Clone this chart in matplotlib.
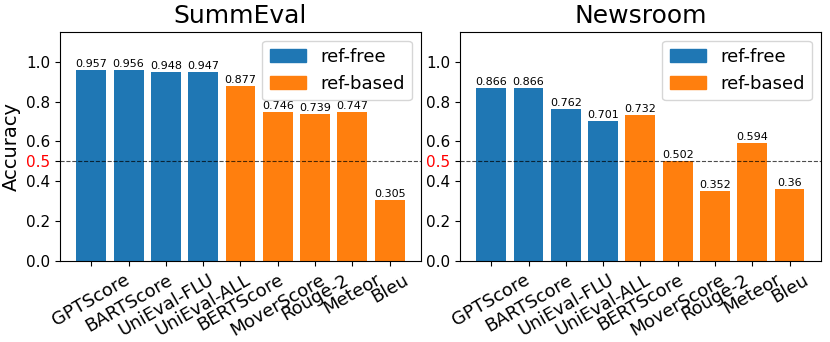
import matplotlib
matplotlib.use("Agg")
import matplotlib.pyplot as plt
from matplotlib.patches import Patch

metrics = ["GPTScore", "BARTScore", "UniEval-FLU", "UniEval-ALL",
           "BERTScore", "MoverScore", "Rouge-2", "Meteor", "Bleu"]
summeval = [0.957, 0.956, 0.948, 0.947, 0.877, 0.746, 0.739, 0.747, 0.305]
newsroom = [0.866, 0.866, 0.762, 0.701, 0.732, 0.502, 0.352, 0.594, 0.36]
n_free = 4

blue = "#1f77b4"
orange = "#ff7f0e"
colors = [blue] * n_free + [orange] * (len(metrics) - n_free)

fig, axes = plt.subplots(1, 2, figsize=(8.3, 3.42), dpi=100)

for ax, vals, title in zip(axes, [summeval, newsroom], ["SummEval", "Newsroom"]):
    x = range(len(metrics))
    ax.bar(x, vals, color=colors)
    for i, v in enumerate(vals):
        ax.text(i, v + 0.005, str(v), ha="center", va="bottom", fontsize=8)
    ax.axhline(0.5, color="black", linestyle="--", linewidth=0.8, alpha=0.7)
    ax.set_ylim(0, 1.15)
    ax.set_yticks([0.0, 0.2, 0.4, 0.5, 0.6, 0.8, 1.0])
    ax.set_yticklabels(["0.0", "0.2", "0.4", "0.5", "0.6", "0.8", "1.0"], fontsize=11)
    ax.get_yticklabels()[3].set_color("red")
    ax.set_xticks(list(x))
    ax.set_xticklabels(metrics, rotation=30, fontsize=13, ha="center")
    ax.set_title(title, fontsize=18)
    ax.legend(handles=[Patch(color=blue, label="ref-free"),
                       Patch(color=orange, label="ref-based")],
              loc="upper right", fontsize=13)

axes[0].set_ylabel("Accuracy", fontsize=14)

fig.subplots_adjust(left=0.0723, right=0.989, top=0.907, bottom=0.237, wspace=0.108)
fig.savefig("out.png")
